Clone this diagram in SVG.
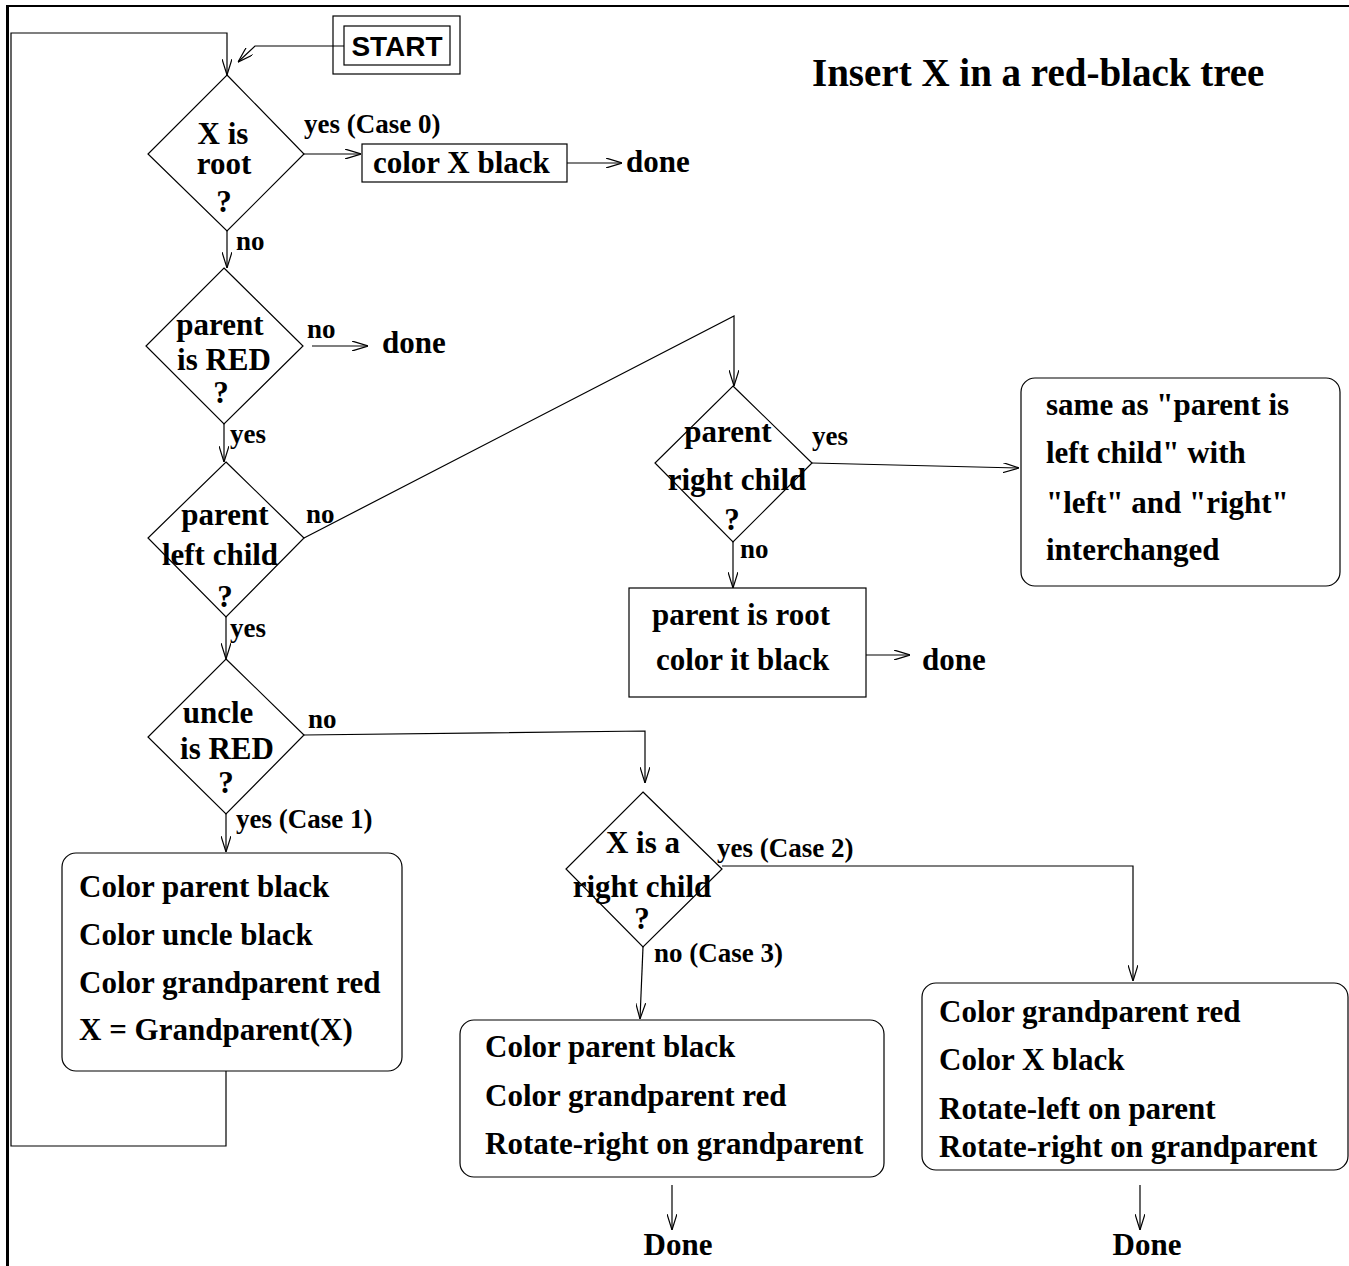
<svg xmlns="http://www.w3.org/2000/svg" width="1349" height="1266" viewBox="0 0 1349 1266">
<style>
.t{font-family:"Liberation Serif","Times New Roman",serif;font-weight:bold;font-size:31px;fill:#000}
.m{text-anchor:middle}
.lb{font-family:"Liberation Serif","Times New Roman",serif;font-weight:bold;font-size:27px;fill:#000}
.ttl{font-family:"Liberation Serif","Times New Roman",serif;font-weight:bold;font-size:39px;fill:#000}
.st{font-family:"Liberation Sans",Arial,sans-serif;font-weight:bold;font-size:28px;fill:#000;text-anchor:middle}
.s{fill:none;stroke:#000;stroke-width:1.2}
.c{fill:none;stroke:#000;stroke-width:1.2}
.a{marker-end:url(#ah)}
</style>
<defs>
<marker id="ah" viewBox="0 0 16 10" refX="16" refY="5" markerWidth="16" markerHeight="10" markerUnits="userSpaceOnUse" orient="auto">
<path d="M0,0 L16,5 L0,10" fill="none" stroke="#000" stroke-width="1.2"/>
</marker>
</defs>
<rect width="1349" height="1266" fill="#fff"/>
<g id="frame">
<line x1="6" y1="6" x2="1349" y2="6" stroke="#000" stroke-width="2"/>
<line x1="7.5" y1="5" x2="7.5" y2="1266" stroke="#000" stroke-width="3"/>
</g>
<text id="title" class="ttl" x="812" y="86">Insert X in a red-black tree</text>

<g id="connectors">
<path class="c a" d="M344,46 L255,46 L238,62"/>
<path class="c a" d="M226,1071 L226,1146 L11,1146 L11,33 L227,33 L227,75"/>
<path class="c a" d="M304,154 L361,154"/>
<path class="c a" d="M567,163 L622,163"/>
<path class="c a" d="M227,231 L227,268"/>
<path class="c a" d="M312,346 L368,346"/>
<path class="c a" d="M224,424 L224,462"/>
<path class="c a" d="M304,538 L734,316 L734,386"/>
<path class="c a" d="M812,463 L1019,468"/>
<path class="c a" d="M733,542 L733,588"/>
<path class="c a" d="M866,655 L910,655"/>
<path class="c a" d="M226,617 L226,659"/>
<path class="c a" d="M304,735 L645,731 L645,783"/>
<path class="c a" d="M226,814 L226,852"/>
<path class="c a" d="M722,866 L1133,866 L1133,981"/>
<path class="c a" d="M643,947 L640,1019"/>
<path class="c a" d="M672,1185 L672,1230"/>
<path class="c a" d="M1140,1185 L1140,1230"/>
</g>

<g id="labels">
<text class="lb" x="304" y="133">yes (Case 0)</text>
<text class="lb" x="236" y="250">no</text>
<text class="lb" x="307" y="338">no</text>
<text class="lb" x="230" y="443">yes</text>
<text class="lb" x="306" y="523">no</text>
<text class="lb" x="230" y="637">yes</text>
<text class="lb" x="812" y="445">yes</text>
<text class="lb" x="740" y="558">no</text>
<text class="lb" x="308" y="728">no</text>
<text class="lb" x="236" y="828">yes (Case 1)</text>
<text class="lb" x="717" y="857">yes (Case 2)</text>
<text class="lb" x="654" y="962">no (Case 3)</text>
</g>

<g id="start">
<rect class="s" x="333" y="16" width="127" height="58"/>
<rect class="s" x="344" y="26" width="106" height="39"/>
<text class="st" x="397" y="56">START</text>
</g>

<g id="d-xroot">
<path class="s" d="M227,75 L304,154 L227,231 L148,154 Z"/>
<text class="t m" x="223" y="144">X is</text>
<text class="t m" x="224" y="174">root</text>
<text class="t m" x="224" y="212">?</text>
</g>

<g id="b-colorx">
<rect class="s" x="362" y="144" width="205" height="38"/>
<text class="t" x="373" y="173">color X black</text>
</g>
<text id="done1" class="t" x="626" y="172">done</text>

<g id="d-parentred">
<path class="s" d="M224,268 L303,346 L224,424 L146,346 Z"/>
<text class="t m" x="220" y="335">parent</text>
<text class="t m" x="224" y="370">is RED</text>
<text class="t m" x="221" y="403">?</text>
</g>
<text id="done2" class="t" x="382" y="353">done</text>

<g id="d-parentleft">
<path class="s" d="M226,462 L304,538 L226,617 L148,538 Z"/>
<text class="t m" x="225" y="525">parent</text>
<text class="t m" x="220" y="565">left child</text>
<text class="t m" x="225" y="607">?</text>
</g>

<g id="d-parentright">
<path class="s" d="M733,386 L812,463 L733,542 L655,463 Z"/>
<text class="t m" x="728" y="442">parent</text>
<text class="t m" x="737" y="490">right child</text>
<text class="t m" x="732" y="530">?</text>
</g>

<g id="b-symmetric">
<rect class="s" x="1021" y="378" width="319" height="208" rx="14"/>
<text class="t" x="1046" y="415">same as "parent is</text>
<text class="t" x="1046" y="463">left child" with</text>
<text class="t" x="1046" y="513">"left" and "right"</text>
<text class="t" x="1046" y="560">interchanged</text>
</g>

<g id="b-parentroot">
<rect class="s" x="629" y="588" width="237" height="109"/>
<text class="t" x="652" y="625">parent is root</text>
<text class="t" x="656" y="670">color it black</text>
</g>
<text id="done3" class="t" x="922" y="670">done</text>

<g id="d-uncle">
<path class="s" d="M226,659 L304,735 L226,814 L148,737 Z"/>
<text class="t m" x="218" y="723">uncle</text>
<text class="t m" x="227" y="759">is RED</text>
<text class="t m" x="226" y="793">?</text>
</g>

<g id="b-case1">
<rect class="s" x="62" y="853" width="340" height="218" rx="14"/>
<text class="t" x="79" y="897">Color parent black</text>
<text class="t" x="79" y="945">Color uncle black</text>
<text class="t" x="79" y="993">Color grandparent red</text>
<text class="t" x="79" y="1040">X = Grandparent(X)</text>
</g>

<g id="d-xright">
<path class="s" d="M643,792 L722,869 L643,947 L566,869 Z"/>
<text class="t m" x="643" y="853">X is a</text>
<text class="t m" x="642" y="897">right child</text>
<text class="t m" x="642" y="929">?</text>
</g>

<g id="b-case3">
<rect class="s" x="460" y="1020" width="424" height="157" rx="14"/>
<text class="t" x="485" y="1057">Color parent black</text>
<text class="t" x="485" y="1106">Color grandparent red</text>
<text class="t" x="485" y="1154">Rotate-right on grandparent</text>
</g>

<g id="b-case2">
<rect class="s" x="922" y="983" width="426" height="187" rx="14"/>
<text class="t" x="939" y="1022">Color grandparent red</text>
<text class="t" x="939" y="1070">Color X black</text>
<text class="t" x="939" y="1119">Rotate-left on parent</text>
<text class="t" x="939" y="1157">Rotate-right on grandparent</text>
</g>

<text id="done4" class="t m" x="678" y="1255">Done</text>
<text id="done5" class="t m" x="1147" y="1255">Done</text>
</svg>
